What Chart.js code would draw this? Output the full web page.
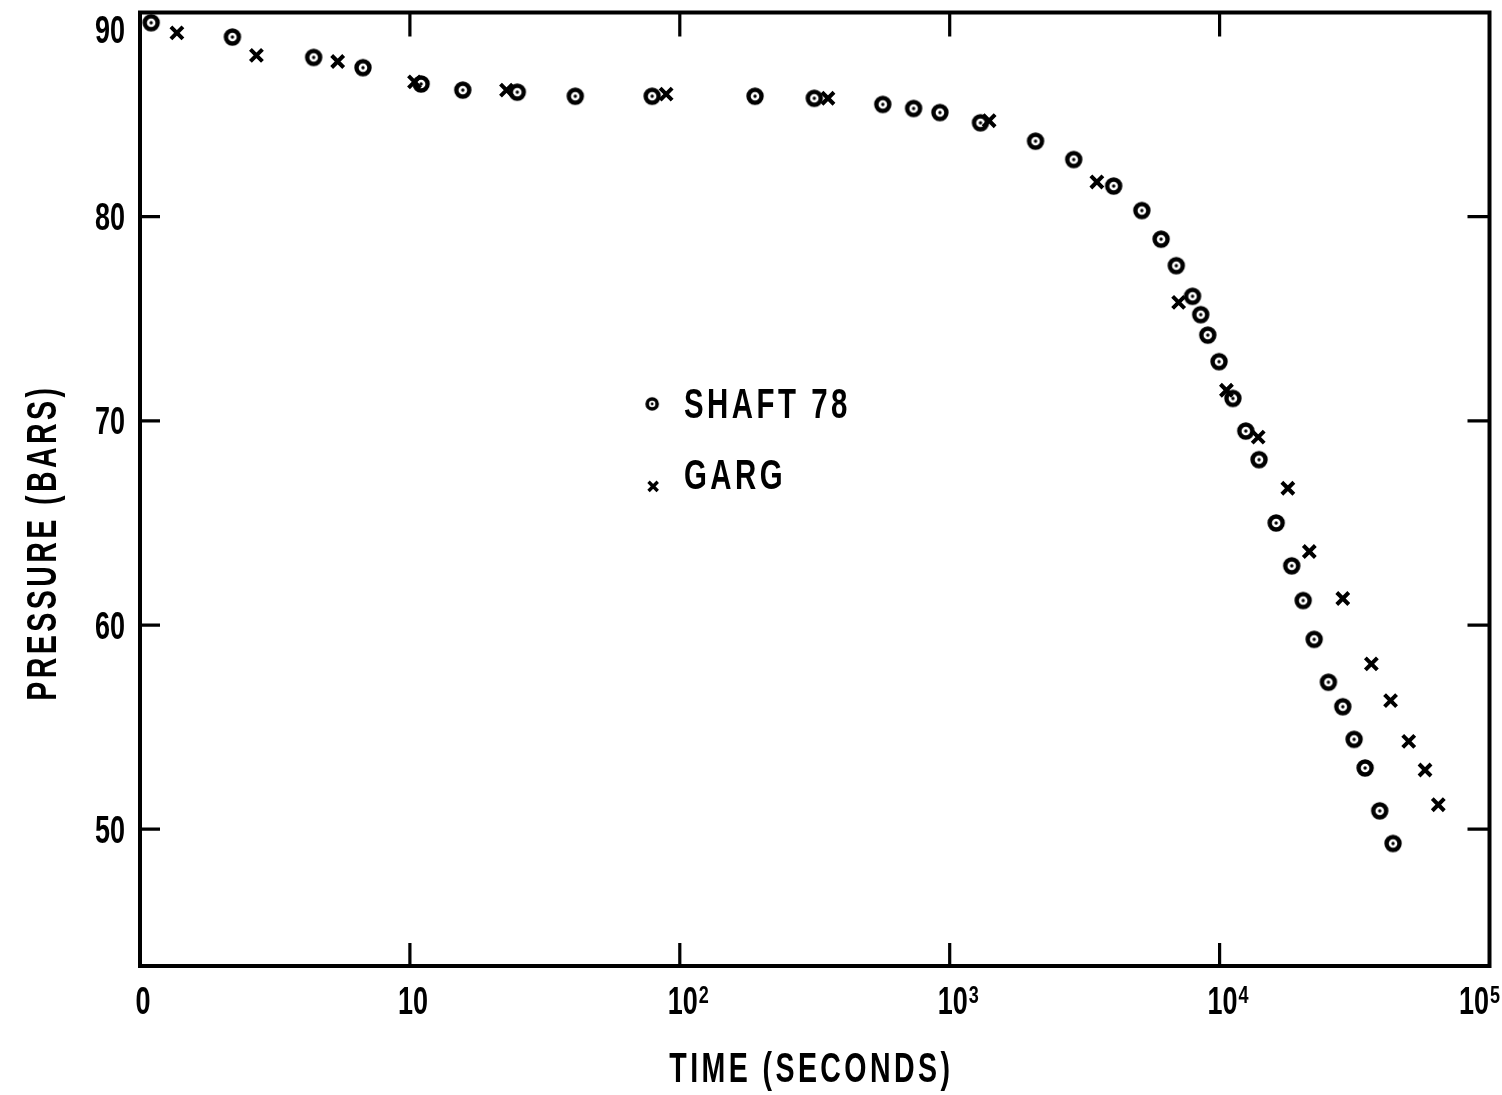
<!DOCTYPE html>
<html>
<head>
<meta charset="utf-8">
<script src="https://cdn.jsdelivr.net/npm/chart.js@4.4.1/dist/chart.umd.min.js"></script>
<style>
  html, body { margin: 0; padding: 0; background: #fff; }
  #wrap { width: 1502px; height: 1095px; position: relative; }
</style>
</head>
<body>
<div id="wrap"><canvas id="pressureChart"></canvas></div>
<script>
// ── DATA ──
const shaftTime = [1.1, 2.2, 4.4, 6.7, 11, 15.7, 25, 41, 79, 190, 315, 565, 735, 920,
  1300, 2080, 2880, 4050, 5150, 6070, 6910, 7940, 8510, 9040, 9950, 11200, 12500,
  14000, 16200, 18500, 20400, 22400, 25300, 28600, 31500, 34600, 39200, 43900];
const shaftPressure = [89.5, 88.8, 87.8, 87.3, 86.5, 86.2, 86.1, 85.9, 85.9, 85.9,
  85.8, 85.5, 85.3, 85.1, 84.6, 83.7, 82.8, 81.5, 80.3, 78.9, 77.6, 76.1, 75.2,
  74.2, 72.9, 71.1, 69.5, 68.1, 65.0, 62.9, 61.2, 59.3, 57.2, 56.0, 54.4, 53.0,
  50.9, 49.3];
const gargTime = [1.37, 2.7, 5.4, 10.4, 22.8, 89, 354, 1400, 3510, 7050, 10600,
  13900, 17900, 21500, 28600, 36500, 43000, 50200, 57700, 64600];
const gargPressure = [89.0, 87.9, 87.6, 86.6, 86.2, 86.0, 85.8, 84.7, 81.7, 75.8,
  71.5, 69.2, 66.7, 63.6, 61.3, 58.1, 56.3, 54.3, 52.9, 51.2];

const seriesNames = ['SHAFT 78', 'GARG'];
const timeTicks = [1, 10, 100, 1000, 10000, 100000];
const timeTickBase = ['0', '10', '10', '10', '10', '10'];
const timeTickExp  = ['', '', '2', '3', '4', '5'];
const pressureTicks = [50, 60, 70, 80, 90];
const xTitle = 'TIME (SECONDS)';
const yTitle = 'PRESSURE (BARS)';

const INK  = '#000';
const FONT = "'Liberation Sans', Arial, sans-serif";

// ── TEXT ──
// lettering in the original is tall and narrow: squeeze it horizontally
function drawText(ctx, text, x, y, o) {
  ctx.save();
  ctx.fillStyle = INK;
  ctx.font = `${o.weight || 'bold'} ${o.size}px ${FONT}`;
  ctx.textBaseline = o.baseline || 'alphabetic';
  ctx.textAlign = o.align || 'left';
  if ('letterSpacing' in ctx) ctx.letterSpacing = (o.spacing || 0) + 'px';
  ctx.translate(x, y);
  if (o.rotate) ctx.rotate(o.rotate);
  ctx.scale(o.sx || 1, 1);
  ctx.fillText(text, 0, 0);
  ctx.restore();
}
function textWidth(ctx, text, o) {
  ctx.save();
  ctx.font = `${o.weight || 'bold'} ${o.size}px ${FONT}`;
  if ('letterSpacing' in ctx) ctx.letterSpacing = (o.spacing || 0) + 'px';
  const w = ctx.measureText(text).width * (o.sx || 1);
  ctx.restore();
  return w;
}

const TICK_FONT  = { size: 38, sx: 0.71 };
const EXP_FONT   = { size: 24, sx: 0.75 };
const TITLE_FONT = { size: 42, sx: 0.68, spacing: 5 };
const LEG_FONT   = { size: 42, sx: 0.70, spacing: 5 };
const CAP = 0.716;

// ── MARKERS ──
function makeRing(size, r, lw, dot) {
  const c = document.createElement('canvas');
  c.width = c.height = size;
  const g = c.getContext('2d');
  g.strokeStyle = INK;
  g.fillStyle = INK;
  g.lineWidth = lw;
  g.beginPath(); g.arc(size / 2, size / 2, r, 0, Math.PI * 2); g.stroke();
  g.beginPath(); g.arc(size / 2, size / 2, dot, 0, Math.PI * 2); g.fill();
  return c;
}
const ring      = makeRing(24, 6.5, 4.4, 1.7);
const ringSmall = makeRing(20, 5.0, 3.6, 1.4);

// ── FRAME + INWARD TICKS ──
const frameTicks = {
  id: 'frameTicks',
  beforeDatasetsDraw(chart) {
    const { ctx, chartArea: a, scales: { x, y } } = chart;
    ctx.save();
    ctx.strokeStyle = INK;
    ctx.lineWidth = 4;
    ctx.strokeRect(a.left, a.top, a.right - a.left, a.bottom - a.top);
    ctx.lineWidth = 3.2;
    ctx.beginPath();
    timeTicks.slice(1, -1).forEach(v => {
      const px = x.getPixelForValue(v);
      ctx.moveTo(px, a.bottom); ctx.lineTo(px, a.bottom - 23);
      ctx.moveTo(px, a.top);    ctx.lineTo(px, a.top + 24);
    });
    pressureTicks.slice(0, -1).forEach(v => {
      const py = y.getPixelForValue(v);
      ctx.moveTo(a.left, py);  ctx.lineTo(a.left + 20, py);
      ctx.moveTo(a.right, py); ctx.lineTo(a.right - 22, py);
    });
    ctx.stroke();
    ctx.restore();
  }
};

// ── TICK LABELS, TITLES, LEGEND ──
const labelsPlugin = {
  id: 'labelsPlugin',
  afterDraw(chart) {
    const { ctx, chartArea: a, scales: { x, y } } = chart;
    const w = a.right - a.left, h = a.bottom - a.top;
    const cap = TICK_FONT.size * CAP;

    // y tick labels (top one sits under the frame in the original)
    pressureTicks.forEach(v => {
      const py = y.getPixelForValue(v);
      const base = Math.max(py + cap / 2, a.top + cap + 3);
      drawText(ctx, String(v), a.left - 15, base, { ...TICK_FONT, align: 'right' });
    });

    // x tick labels: "10" centred on the tick, exponent to its right
    const baseY = a.bottom + 48;
    timeTicks.forEach((v, i) => {
      const px = x.getPixelForValue(v);
      const bw = textWidth(ctx, timeTickBase[i], TICK_FONT);
      const ew = timeTickExp[i] ? textWidth(ctx, timeTickExp[i], EXP_FONT) + 1 : 0;
      let left = px - bw / 2 + 3;
      if (i === timeTicks.length - 1) left = Math.min(left, chart.width - 2 - bw - ew);
      drawText(ctx, timeTickBase[i], left, baseY, TICK_FONT);
      if (ew) drawText(ctx, timeTickExp[i], left + bw + 1, baseY - 11, EXP_FONT);
    });

    // axis titles
    const tcap = TITLE_FONT.size * CAP;
    drawText(ctx, xTitle, a.left + w * 0.4975, a.bottom + 101 + tcap / 2,
      { ...TITLE_FONT, align: 'center' });
    drawText(ctx, yTitle, 41 + tcap / 2, a.top + h * 0.556,
      { ...TITLE_FONT, align: 'center', rotate: -Math.PI / 2 });

    // legend inside the plot
    const mx = a.left + w * 0.3795;
    const tx = a.left + w * 0.4031;
    const lcap = LEG_FONT.size * CAP;
    ctx.save();
    Chart.helpers.drawPoint(ctx, { pointStyle: ringSmall, radius: 6, borderWidth: 0, rotation: 0 },
      mx, a.top + h * 0.4105);
    ctx.strokeStyle = INK;
    ctx.lineWidth = 3.4;
    Chart.helpers.drawPoint(ctx, { pointStyle: 'crossRot', radius: 6.5, borderWidth: 3.4, rotation: 0 },
      mx + 1, a.top + h * 0.497);
    ctx.restore();
    drawText(ctx, seriesNames[0], tx, a.top + h * 0.4094 + lcap / 2, LEG_FONT);
    drawText(ctx, seriesNames[1], tx, a.top + h * 0.4838 + lcap / 2, LEG_FONT);
  }
};

// ── CHART ──
new Chart(document.getElementById('pressureChart'), {
  type: 'scatter',
  data: {
    datasets: [
      {
        label: seriesNames[0],
        data: shaftTime.map((t, i) => ({ x: t, y: shaftPressure[i] })),
        pointStyle: ring,
        pointRadius: 8,
        pointHoverRadius: 8,
      },
      {
        label: seriesNames[1],
        data: gargTime.map((t, i) => ({ x: t, y: gargPressure[i] })),
        pointStyle: 'crossRot',
        pointRadius: 8.5,
        pointHoverRadius: 8.5,
        pointBorderWidth: 4,
        borderColor: INK,
        backgroundColor: INK,
      }
    ]
  },
  options: {
    responsive: true,
    maintainAspectRatio: false,
    animation: false,
    layout: { padding: { top: 11, right: 5, left: 0, bottom: 0 } },
    plugins: { legend: { display: false }, tooltip: { enabled: false } },
    scales: {
      x: {
        type: 'logarithmic',
        min: 1,
        max: 100000,
        grid: { display: false },
        border: { display: false },
        ticks: { display: false },
        afterFit: s => { s.height = 129; s.paddingLeft = 0; s.paddingRight = 0; },
      },
      y: {
        min: 43.3,
        max: 90,
        grid: { display: false },
        border: { display: false },
        ticks: { display: false },
        afterFit: s => { s.width = 140; s.paddingTop = 0; s.paddingBottom = 0; },
      }
    }
  },
  plugins: [frameTicks, labelsPlugin]
});
</script>
</body>
</html>
